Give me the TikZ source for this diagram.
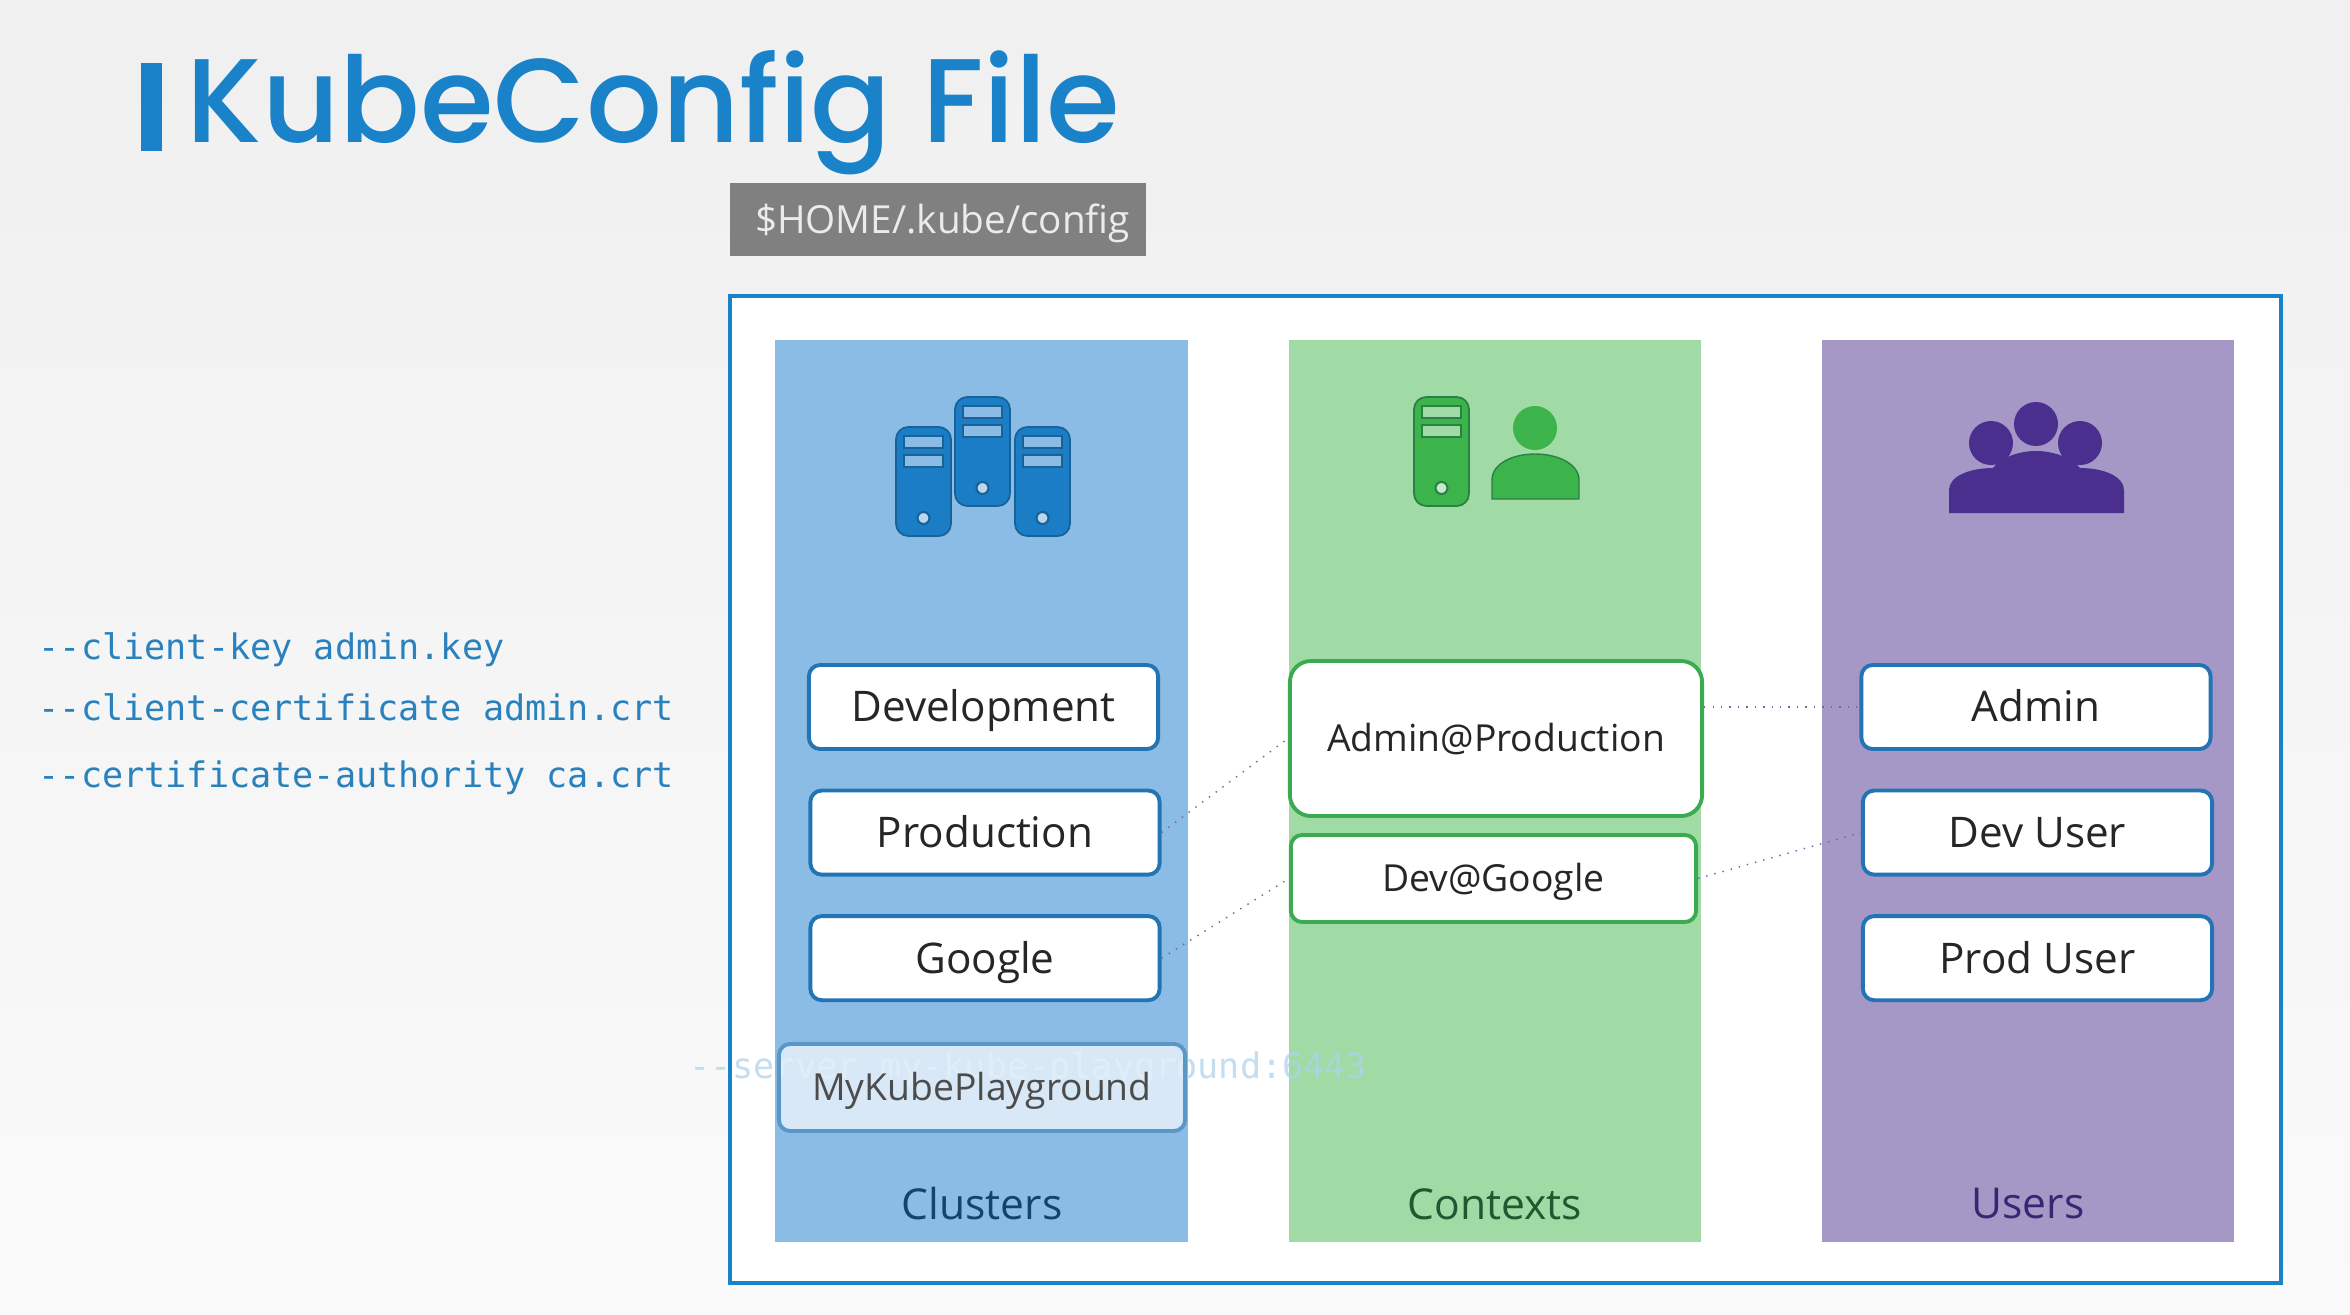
\documentclass[tikz,border=0pt]{standalone}
\usepackage{fontspec}
\setmainfont{Open Sans}
\setmonofont{DejaVu Sans Mono}
\newfontfamily\titlefont[UprightFont=* Medium]{Poppins}
\usepackage{tikz}
\usetikzlibrary{positioning}
\usepackage{xcolor}
\definecolor{kubeblue}{RGB}{26,130,201}
\definecolor{clusterblue}{RGB}{139,188,230}
\definecolor{contextgreen}{RGB}{160,218,165}
\definecolor{userpurple}{RGB}{165,152,198}
\definecolor{serverblue}{RGB}{26,125,198}
\definecolor{serverline}{RGB}{24,98,150}
\definecolor{servergreen}{RGB}{60,180,75}
\definecolor{greenline}{RGB}{40,130,70}
\definecolor{peoplepurple}{RGB}{74,47,143}
\definecolor{boxblue}{RGB}{34,116,180}
\definecolor{boxgreen}{RGB}{60,170,80}
\definecolor{dotline}{RGB}{110,100,160}
\tikzstyle{column} = [rectangle, minimum width=4.12cm, minimum height=9.02cm, inner sep=0pt]
\tikzstyle{entry} = [rectangle, rounded corners=3.2pt, minimum width=3.49cm, minimum height=0.84cm, text centered, draw=boxblue, fill=white, line width=1.1pt, inner sep=0pt, text=black!85, text height=8.5pt, text depth=0pt, font=\fontsize{12}{14}\selectfont]
\tikzstyle{context} = [entry, draw=boxgreen, text height=7.6pt, font=\fontsize{10.6}{14}\selectfont]
\tikzstyle{collabel} = [font=\fontsize{12.1}{14}\selectfont]
\tikzstyle{flag} = [anchor=base west, inner sep=0pt, font=\ttfamily\fontsize{10}{12}\selectfont, text=kubeblue!85!gray]
\tikzstyle{link} = [dotted, line width=0.4pt, color=dotline]
\begin{document}
\begin{tikzpicture}[x=0.01cm,y=-0.01cm,node distance=1.255cm]
\useasboundingbox (0,0) rectangle (2350,1314);
\shade[top color=black!6, bottom color=black!2] (0,0) rectangle (2350,1314);

% Title
\fill[kubeblue] (141,63) rectangle (162,151);
\node (title) [anchor=base west, inner sep=0pt, text=kubeblue, font=\titlefont\fontsize{33.9}{40}\selectfont] at (186,142) {KubeConfig File};
\node (path) [rectangle, minimum width=4.16cm, minimum height=0.73cm, inner sep=0pt, fill=black!50, text=white!92!black, text height=8pt, text depth=0pt, font=\fontsize{11}{14}\selectfont] at (938,219.5) {\hspace{0.09cm}\$HOME/.kube/config};

% Frame and columns
\draw[kubeblue, fill=white, line width=1pt] (730,296) rectangle (2281,1283);
\node (clusters) [column, fill=clusterblue] at (981.5,791) {};
\node (contexts) [column, fill=contextgreen] at (1495,791) {};
\node (users) [column, fill=userpurple] at (2028,791) {};

% Server icons
\foreach \sx/\sy in {896/427,955/397,1015/427} {
  \draw[fill=serverblue, draw=serverline, line width=0.5pt, rounded corners=3.5pt] (\sx,\sy) rectangle ++(55,109);
  \draw[fill=clusterblue, draw=serverline, line width=0.6pt] (\sx+8,\sy+9) rectangle ++(39,12);
  \draw[fill=clusterblue, draw=serverline, line width=0.6pt] (\sx+8,\sy+28) rectangle ++(39,12);
  \draw[fill=clusterblue!60!white, draw=serverline, line width=0.6pt] (\sx+27.5,\sy+91) circle (6);
}
\draw[fill=servergreen, draw=greenline, line width=0.5pt, rounded corners=3.5pt] (1414,397) rectangle ++(55,109);
\foreach \sy in {406,425} {
  \draw[fill=contextgreen, draw=greenline, line width=0.6pt] (1422,\sy) rectangle ++(39,12);
}
\draw[fill=contextgreen!60!white, draw=greenline, line width=0.6pt] (1441.5,488) circle (6);

% People icons
\fill[servergreen] (1535,428) ellipse (22 and 22);
\draw[fill=servergreen, draw=greenline, line width=0.4pt] (1492,499) -- (1492,480) .. controls (1492,464) and (1512,454) .. (1535,454) .. controls (1558,454) and (1579,464) .. (1579,480) -- (1579,499) -- cycle;
\foreach \hx/\hy in {1991/443,2036/424,2080/443} {
  \fill[peoplepurple] (\hx,\hy) ellipse (22 and 22);
}
\fill[peoplepurple] (1949,513) -- (1949,490) .. controls (1949,477) and (1968,468) .. (1993,468) .. controls (2000,458) and (2018,451) .. (2036,451) .. controls (2054,451) and (2072,458) .. (2080,468) .. controls (2105,468) and (2124,477) .. (2124,490) -- (2124,513) -- cycle;

% Left hand flags
\node (clientkey) [flag] at (38,659) {--client-key admin.key};
\node (clientcert) [flag] at (38,720) {--client-certificate admin.crt};
\node (certauth) [flag] at (38,787) {--certificate-authority ca.crt};
\node (server) [flag, text=kubeblue!35!white, opacity=0.75] at (689,1078) {--server my-kube-playground:6443};

% Clusters
\node (development) [entry] at (983.5,707) {Development};
\node (production) [entry, below of=development, xshift=0.015cm] {Production};
\node (google) [entry, below of=production] {Google};
\node (playground) [context, draw=boxblue!75!white, minimum width=4.06cm, minimum height=0.87cm, fill opacity=0.67, text opacity=1, text=black!70] at (982,1087.5) {MyKubePlayground};

% Contexts
\node (adminprod) [context, rounded corners=6pt, minimum width=4.12cm, minimum height=1.55cm] at (1496,738.5) {Admin@Production};
\node (devgoogle) [context, minimum width=4.05cm, minimum height=0.87cm] at (1493.5,878.5) {Dev@Google};

% Users
\node (admin) [entry] at (2036,707) {Admin};
\node (devuser) [entry, below of=admin, xshift=0.015cm] {Dev User};
\node (produser) [entry, below of=devuser] {Prod User};

% Links
\draw[link] (production.east) -- (adminprod.west);
\draw[link] (google.east) -- (devgoogle.west);
\draw[link] (admin.west -| adminprod.east) -- (admin.west);
\draw[link] (devgoogle.east) -- (devuser.west);

% Column labels
\node (clusterslabel) [collabel, text=serverline!70!black] at (982,1204) {Clusters};
\node (contextslabel) [collabel, text=greenline!70!black] at (1495,1204) {Contexts};
\node (userslabel) [collabel, text=peoplepurple!80!black] at (2028,1204) {Users};
\end{tikzpicture}
\end{document}
